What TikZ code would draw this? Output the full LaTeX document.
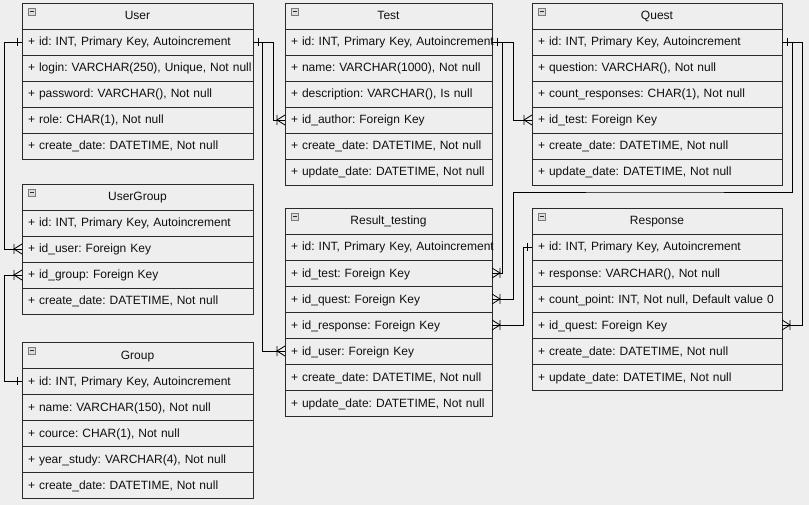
\documentclass[tikz,border=0pt]{standalone}
\usepackage{fontspec}
\setmainfont{Liberation Sans}
\usepackage{xcolor}
\usepackage{tikz}
\usetikzlibrary{positioning, calc}

\definecolor{bgcol}{HTML}{EEEEEE}
\definecolor{boxcol}{HTML}{EEEEEE}
\definecolor{edgecol}{HTML}{2A2A2A}
\definecolor{txtcol}{HTML}{0F0F0F}
\definecolor{iconedge}{HTML}{7A7A7A}
\definecolor{iconfill}{HTML}{DCDCDC}

\tikzset{
    cell/.style={draw=edgecol, fill=boxcol, line width=0.8pt, text=txtcol, minimum height=26pt,
        text width=#1, text height=10pt, text depth=2pt, inner xsep=6pt, inner ysep=0pt, outer sep=0pt},
    row/.style={cell=#1, execute at begin node={\hbox\bgroup}, execute at end node={\egroup}},
    head/.style={cell=#1, align=center, anchor=north west,
        path picture={
            \draw[draw=iconedge, fill=iconfill, line width=0.6pt]
                ([shift={(6.5pt,-5pt)}]path picture bounding box.north west) rectangle ++(7pt,-7pt);
            \draw[draw=edgecol, line width=0.8pt]
                ([shift={(8pt,-8.5pt)}]path picture bounding box.north west) -- ++(4pt,0pt);
        }},
    link/.style={draw=black, line width=0.8pt},
    crowfoot/.pic={\draw[link] (0,-5) -- (-8,0) -- (0,5) (-8,-5) -- (-8,5);},
    onetick/.pic={\draw[link] (-5,-4) -- (-5,4);}
}

\begin{document}
\begin{tikzpicture}[x=1pt, y=-1pt, every node/.style={font=\fontsize{12}{14}\selectfont\frenchspacing}]
    \useasboundingbox[fill=bgcol] (0,0) rectangle (809,505);

    % User
    \node[head=219pt] (user) at (22,3) {User};
    \node[row=219pt, below=0pt of user] (user-id) {+ id: INT, Primary Key, Autoincrement};
    \node[row=219pt, below=0pt of user-id] (user-login) {+ login: VARCHAR(250), Unique, Not null};
    \node[row=219pt, below=0pt of user-login] (user-pass) {+ password: VARCHAR(), Not null};
    \node[row=219pt, below=0pt of user-pass] (user-role) {+ role: CHAR(1), Not null};
    \node[row=219pt, below=0pt of user-role] (user-cdate) {+ create\_date: DATETIME, Not null};

    % UserGroup
    \node[head=219pt] (ug) at (22,184) {UserGroup};
    \node[row=219pt, below=0pt of ug] (ug-id) {+ id: INT, Primary Key, Autoincrement};
    \node[row=219pt, below=0pt of ug-id] (ug-user) {+ id\_user: Foreign Key};
    \node[row=219pt, below=0pt of ug-user] (ug-group) {+ id\_group: Foreign Key};
    \node[row=219pt, below=0pt of ug-group] (ug-cdate) {+ create\_date: DATETIME, Not null};

    % Group
    \node[head=219pt] (grp) at (22,342) {Group};
    \node[row=219pt, below=0pt of grp] (grp-id) {+ id: INT, Primary Key, Autoincrement};
    \node[row=219pt, below=0pt of grp-id] (grp-name) {+ name: VARCHAR(150), Not null};
    \node[row=219pt, below=0pt of grp-name] (grp-cource) {+ cource: CHAR(1), Not null};
    \node[row=219pt, below=0pt of grp-cource] (grp-year) {+ year\_study: VARCHAR(4), Not null};
    \node[row=219pt, below=0pt of grp-year] (grp-cdate) {+ create\_date: DATETIME, Not null};

    % Test
    \node[head=195pt] (test) at (285,3) {Test};
    \node[row=195pt, below=0pt of test] (test-id) {+ id: INT, Primary Key, Autoincrement};
    \node[row=195pt, below=0pt of test-id] (test-name) {+ name: VARCHAR(1000), Not null};
    \node[row=195pt, below=0pt of test-name] (test-desc) {+ description: VARCHAR(), Is null};
    \node[row=195pt, below=0pt of test-desc] (test-author) {+ id\_author: Foreign Key};
    \node[row=195pt, below=0pt of test-author] (test-cdate) {+ create\_date: DATETIME, Not null};
    \node[row=195pt, below=0pt of test-cdate] (test-udate) {+ update\_date: DATETIME, Not null};

    % Result_testing
    \node[head=195pt] (rt) at (285,208) {Result\_testing};
    \node[row=195pt, below=0pt of rt] (rt-id) {+ id: INT, Primary Key, Autoincrement};
    \node[row=195pt, below=0pt of rt-id] (rt-test) {+ id\_test: Foreign Key};
    \node[row=195pt, below=0pt of rt-test] (rt-quest) {+ id\_quest: Foreign Key};
    \node[row=195pt, below=0pt of rt-quest] (rt-resp) {+ id\_response: Foreign Key};
    \node[row=195pt, below=0pt of rt-resp] (rt-user) {+ id\_user: Foreign Key};
    \node[row=195pt, below=0pt of rt-user] (rt-cdate) {+ create\_date: DATETIME, Not null};
    \node[row=195pt, below=0pt of rt-cdate] (rt-udate) {+ update\_date: DATETIME, Not null};

    % Quest
    \node[head=238pt] (quest) at (532,3) {Quest};
    \node[row=238pt, below=0pt of quest] (quest-id) {+ id: INT, Primary Key, Autoincrement};
    \node[row=238pt, below=0pt of quest-id] (quest-question) {+ question: VARCHAR(), Not null};
    \node[row=238pt, below=0pt of quest-question] (quest-count) {+ count\_responses: CHAR(1), Not null};
    \node[row=238pt, below=0pt of quest-count] (quest-test) {+ id\_test: Foreign Key};
    \node[row=238pt, below=0pt of quest-test] (quest-cdate) {+ create\_date: DATETIME, Not null};
    \node[row=238pt, below=0pt of quest-cdate] (quest-udate) {+ update\_date: DATETIME, Not null};

    % Response
    \node[head=238pt] (resp) at (532,208) {Response};
    \node[row=238pt, below=0pt of resp] (resp-id) {+ id: INT, Primary Key, Autoincrement};
    \node[row=238pt, below=0pt of resp-id] (resp-response) {+ response: VARCHAR(), Not null};
    \node[row=238pt, below=0pt of resp-response] (resp-point) {+ count\_point: INT, Not null, Default value 0};
    \node[row=238pt, below=0pt of resp-point] (resp-quest) {+ id\_quest: Foreign Key};
    \node[row=238pt, below=0pt of resp-quest] (resp-cdate) {+ create\_date: DATETIME, Not null};
    \node[row=238pt, below=0pt of resp-cdate] (resp-udate) {+ update\_date: DATETIME, Not null};

    % relations
    \draw[link] (user-id.west) -- ++(-18,0) |- (ug-user.west);
    \draw[link] (grp-id.west) -- ++(-18,0) |- (ug-group.west);
    \draw[link] (user-id.east) -- ++(20,0) |- (test-author.west);
    \draw[link] (user-id.east) -- ++(9,0) |- (rt-user.west);
    \draw[link] (test-id.east) -- ++(10,0) |- (rt-test.east);
    \draw[link] (test-id.east) -- ++(21,0) |- (quest-test.west);
    \draw[link] (quest-id.east) -- ++(10,0) |- ([yshift=-7pt]quest-udate.south)
        -| ([xshift=21pt]rt-quest.east) -- (rt-quest.east);
    \draw[link] (quest-id.east) -- ++(20,0) |- (resp-quest.east);
    \draw[link] (resp-id.west) -- ++(-9,0) |- (rt-resp.east);

    % one ends
    \pic at (user-id.west) {onetick};
    \pic[xscale=-1] at (user-id.east) {onetick};
    \pic at (grp-id.west) {onetick};
    \pic[xscale=-1] at (test-id.east) {onetick};
    \pic[xscale=-1] at (quest-id.east) {onetick};
    \pic at (resp-id.west) {onetick};

    % many ends
    \pic at (ug-user.west) {crowfoot};
    \pic at (ug-group.west) {crowfoot};
    \pic at (test-author.west) {crowfoot};
    \pic at (rt-user.west) {crowfoot};
    \pic at (quest-test.west) {crowfoot};
    \pic[xscale=-1] at (rt-test.east) {crowfoot};
    \pic[xscale=-1] at (rt-quest.east) {crowfoot};
    \pic[xscale=-1] at (rt-resp.east) {crowfoot};
    \pic[xscale=-1] at (resp-quest.east) {crowfoot};
\end{tikzpicture}
\end{document}
